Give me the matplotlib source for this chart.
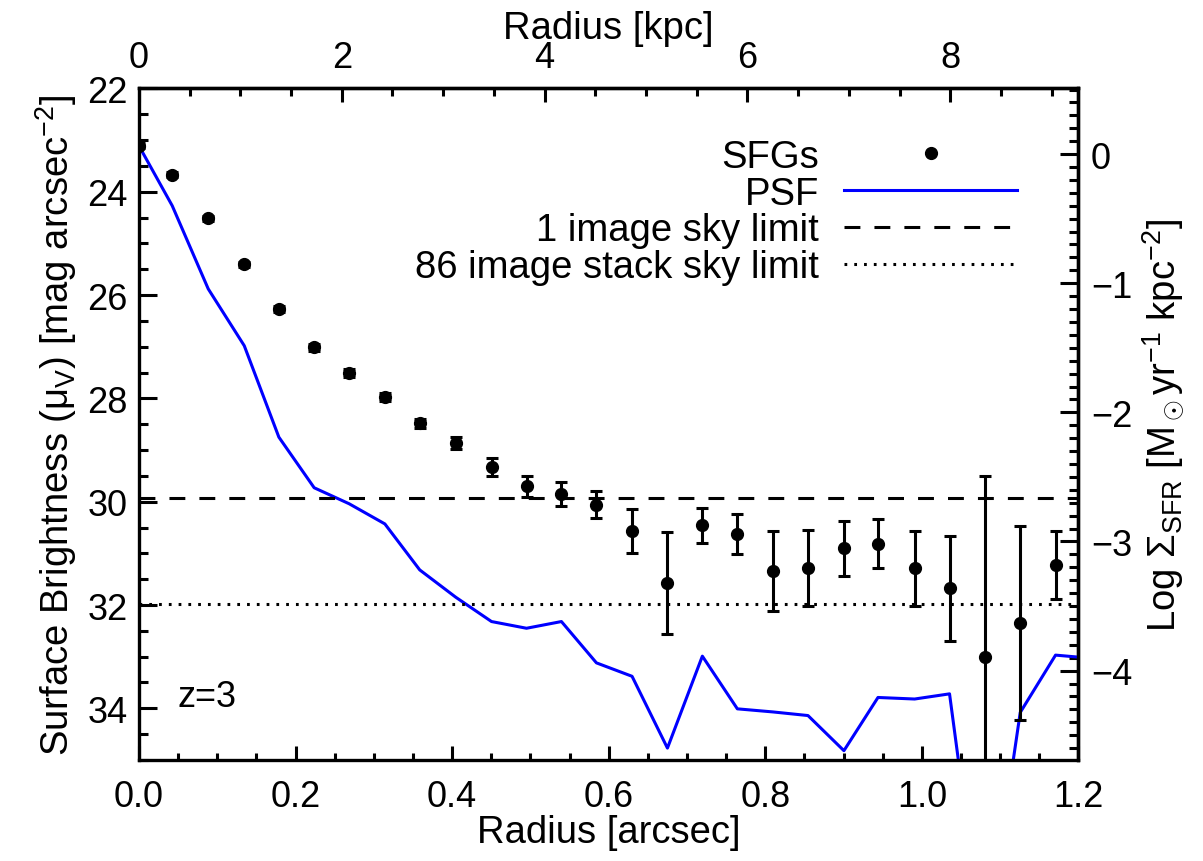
import numpy as np
import matplotlib
matplotlib.use("Agg")
import matplotlib.pyplot as plt
from matplotlib.lines import Line2D
from matplotlib.ticker import MultipleLocator

plt.rcParams['font.family'] = ['Liberation Sans', 'DejaVu Sans']
plt.rcParams['mathtext.fontset'] = 'custom'
plt.rcParams['mathtext.rm'] = 'Liberation Sans'
plt.rcParams['mathtext.it'] = 'Liberation Sans:italic'
plt.rcParams['mathtext.bf'] = 'Liberation Sans:bold'
plt.rcParams['axes.unicode_minus'] = True

# Datos del perfil (SFGs, z=3)
radio_arcsec = [0.0, 0.0425, 0.0885, 0.1345, 0.1787, 0.2238, 0.2685, 0.3141, 0.3586,
                0.4047, 0.4503, 0.495, 0.5396, 0.5843, 0.6298, 0.675, 0.7196, 0.7643,
                0.8098, 0.8545, 0.9004, 0.9439, 0.9907, 1.0353, 1.080, 1.1256, 1.1707]
brillo_sfg = [23.11, 23.67, 24.51, 25.40, 26.27, 27.01, 27.51, 27.97, 28.48,
              28.86, 29.33, 29.70, 29.85, 30.06, 30.57, 31.58, 30.46, 30.63,
              31.34, 31.28, 30.90, 30.81, 31.29, 31.68, 33.01, 32.35, 31.22]
error_sfg = [0.05, 0.05, 0.05, 0.05, 0.06, 0.07, 0.07, 0.08, 0.09,
             0.11, 0.17, 0.20, 0.23, 0.26, 0.42, 0.99, 0.34, 0.39,
             0.77, 0.73, 0.53, 0.47, 0.73, 1.02, 3.5, 1.87, 0.66]

# PSF
radio_psf = radio_arcsec + [1.2158]
brillo_psf = [23.11, 24.27, 25.88, 26.98, 28.75, 29.73, 30.04, 30.43, 31.32,
              31.85, 32.32, 32.45, 32.32, 33.12, 33.38, 34.77, 32.99, 34.01,
              34.07, 34.14, 34.82, 33.79, 33.82, 33.72, 38.8, 34.08, 32.97, 33.03]

limite_1_imagen = 29.93
limite_86_imagenes = 31.98

kpc_por_arcsec = 7.72
mu_cero = 23.27

FS = 26      # etiquetas de los ticks
FS_LAB = 27.5  # títulos de ejes y leyenda

fig = plt.figure(figsize=(12.03, 8.62), dpi=100)
ax = fig.add_axes([0.1155, 0.1172, 0.781, 0.779])

ax.plot(radio_psf, brillo_psf, color='#0000ff', lw=2.2, clip_on=True)
ax.errorbar(radio_arcsec, brillo_sfg, yerr=error_sfg, fmt='o', color='black',
            ms=8.5, elinewidth=2.2, capsize=4.3, capthick=2.2)
ax.axhline(limite_1_imagen, color='black', lw=2.2, dashes=(5.2, 4.6))
ax.axhline(limite_86_imagenes, color='black', lw=2.2, dashes=(0.9, 2.3))

ax.set_xlim(0, 1.2)
ax.set_ylim(35, 22)

ax.xaxis.set_major_locator(MultipleLocator(0.2))
ax.xaxis.set_minor_locator(MultipleLocator(0.05))
ax.yaxis.set_major_locator(MultipleLocator(2))
ax.yaxis.set_minor_locator(MultipleLocator(0.5))
ax.xaxis.set_major_formatter(plt.FormatStrFormatter('%.1f'))

ax.tick_params(axis='x', which='major', direction='in', length=10, width=2.2,
               labelsize=FS, pad=14, top=False)
ax.tick_params(axis='x', which='minor', direction='in', length=5, width=2.2, top=False)
ax.tick_params(axis='y', which='major', direction='in', length=13, width=2.2,
               labelsize=FS, pad=8, right=False)
ax.tick_params(axis='y', which='minor', direction='in', length=6.5, width=2.2, right=False)
for s in ax.spines.values():
    s.set_linewidth(2.4)

ax.set_xlabel('Radius [arcsec]', fontsize=FS_LAB, labelpad=0)
ax.set_ylabel(r'Surface Brightness (μ$_{\rm V}$) [mag arcsec$^{-2}$]', fontsize=FS_LAB, labelpad=6)

# Eje superior en kpc
ax_top = ax.secondary_xaxis('top', functions=(lambda x: x * kpc_por_arcsec,
                                              lambda k: k / kpc_por_arcsec))
ax_top.xaxis.set_major_locator(MultipleLocator(2))
ax_top.xaxis.set_minor_locator(MultipleLocator(0.5))
ax_top.tick_params(which='major', direction='in', length=10, width=2.2, labelsize=FS, pad=10)
ax_top.tick_params(which='minor', direction='in', length=5.5, width=2.2)
ax_top.set_xlabel('Radius [kpc]', fontsize=FS_LAB, labelpad=1)
ax_top.spines['top'].set_linewidth(2.4)

# Eje derecho en Log Sigma SFR
ax_der = ax.secondary_yaxis('right', functions=(lambda m: (mu_cero - m) / 2.5,
                                                lambda l: mu_cero - 2.5 * l))
ax_der.yaxis.set_major_locator(MultipleLocator(1))
ax_der.yaxis.set_minor_locator(MultipleLocator(0.1))
ax_der.tick_params(which='major', direction='in', length=13, width=2.2, labelsize=FS, pad=9)
ax_der.tick_params(which='minor', direction='in', length=6.5, width=2.2)
ax_der.set_ylabel(r'Log $\Sigma_{\rm SFR}$ [M$_\odot$yr$^{-1}$ kpc$^{-2}$]', fontsize=FS_LAB, labelpad=6)
ax_der.spines['right'].set_linewidth(2.4)

ax.text(0.049, 33.78, 'z=3', fontsize=FS, va='center', ha='left')

handles = [
    Line2D([], [], ls='none', marker='o', color='black', ms=8.5),
    Line2D([], [], color='#0000ff', lw=2.2),
    Line2D([], [], color='black', lw=2.2, dashes=(5.2, 4.6)),
    Line2D([], [], color='black', lw=2.2, dashes=(0.9, 2.3)),
]
etiquetas = ['SFGs', 'PSF', '1 image sky limit', '86 image stack sky limit']
ax.legend(handles, etiquetas, loc='upper right', bbox_to_anchor=(0.935, 0.925),
          frameon=False, fontsize=FS_LAB, markerfirst=False, handlelength=4.55,
          handletextpad=0.65, labelspacing=0.02, borderpad=0, borderaxespad=0)

fig.savefig('out.png', dpi=100)
